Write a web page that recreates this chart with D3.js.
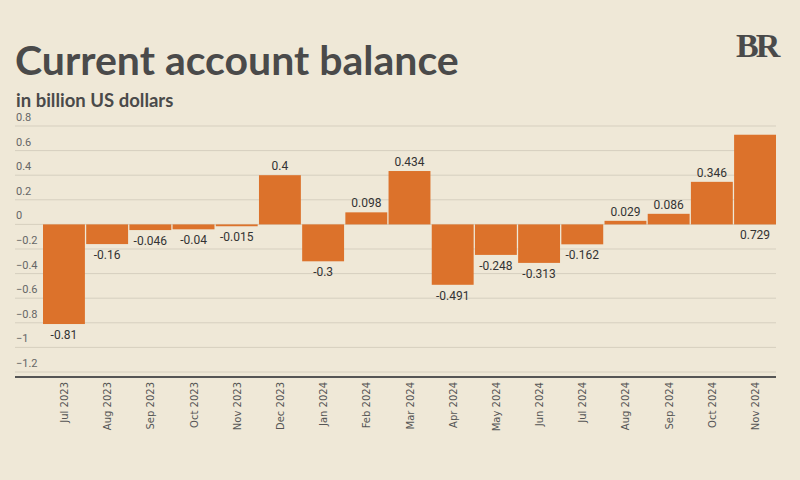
<!DOCTYPE html>
<html>
<head>
<meta charset="utf-8">
<script src="https://cdn.jsdelivr.net/npm/d3@7"></script>
<style>
  body { margin: 0; background: #efe8d7; }
  svg { display: block; }
</style>
</head>
<body>
<div id="chart"></div>
<script>
// data
var months = ["Jul 2023", "Aug 2023", "Sep 2023", "Oct 2023", "Nov 2023", "Dec 2023",
              "Jan 2024", "Feb 2024", "Mar 2024", "Apr 2024", "May 2024", "Jun 2024",
              "Jul 2024", "Aug 2024", "Sep 2024", "Oct 2024", "Nov 2024"];
var values = [-0.81, -0.16, -0.046, -0.04, -0.015, 0.4,
              -0.3, 0.098, 0.434, -0.491, -0.248, -0.313,
              -0.162, 0.029, 0.086, 0.346, 0.729];
var yTicks = [0.8, 0.6, 0.4, 0.2, 0, -0.2, -0.4, -0.6, -0.8, -1, -1.2];

var W = 800, H = 480;
var color = {
  bg: "#efe8d7",
  bar: "#dc722b",
  grid: "#d6cfbf",
  text: "#4a4a4a",
  axis: "#555555"
};
var area = { left: 43, right: 776, top: 126, bottom: 372, gridLeft: 15 };

var svg = d3.select("#chart").append("svg").attr("width", W).attr("height", H);
svg.append("rect").attr("width", W).attr("height", H).attr("fill", color.bg);

// titles
svg.append("text").attr("x", 15).attr("y", 75)
   .attr("font-family", "Lato").attr("font-weight", "bold").attr("font-size", 41)
   .attr("fill", color.text).text("Current account balance");
svg.append("text").attr("x", 16).attr("y", 107)
   .attr("font-family", "Lato").attr("font-weight", "bold").attr("font-size", 18.5)
   .attr("fill", color.text).text("in billion US dollars");
svg.append("text").attr("x", 736).attr("y", 57)
   .attr("font-family", "Liberation Serif").attr("font-weight", "bold").attr("font-size", 34)
   .attr("letter-spacing", -3).attr("fill", color.text).text("BR");

// scales
var x = d3.scaleBand().domain(months).range([area.left, area.right]).paddingInner(0.03).paddingOuter(0);
var y = d3.scaleLinear().domain([-1.2, 0.8]).range([area.bottom, area.top]);

// grid + y labels
var grid = svg.append("g");
grid.selectAll("line").data(yTicks).enter().append("line")
    .attr("x1", area.gridLeft).attr("x2", area.right)
    .attr("y1", function(d) { return y(d); }).attr("y2", function(d) { return y(d); })
    .attr("stroke", color.grid).attr("stroke-width", 1);
grid.selectAll("text").data(yTicks).enter().append("text")
    .attr("x", 16).attr("y", function(d) { return y(d) - 5; })
    .attr("font-family", "Roboto").attr("font-size", 11).attr("fill", "#666")
    .text(function(d) { return d3.format("")(d); });

// bars
svg.append("g").selectAll("rect").data(values).enter().append("rect")
   .attr("x", function(d, i) { return x(months[i]); })
   .attr("width", x.bandwidth())
   .attr("y", function(d) { return y(Math.max(0, d)); })
   .attr("height", function(d) { return Math.abs(y(d) - y(0)); })
   .attr("fill", color.bar);

// value labels (no room above the tallest bar -> put it under the zero line)
svg.append("g").selectAll("text").data(values).enter().append("text")
   .attr("x", function(d, i) { return x(months[i]) + x.bandwidth() / 2; })
   .attr("y", function(d) {
     if (d >= 0) {
       var ty = y(d) - 5;
       return ty - 10 < area.top ? y(0) + 15 : ty;
     }
     return y(d) + 15;
   })
   .attr("text-anchor", "middle")
   .attr("font-family", "Roboto").attr("font-size", 12).attr("fill", "#333")
   .text(function(d) { return String(d); });

// x axis line
svg.append("line").attr("x1", area.gridLeft).attr("x2", area.right)
   .attr("y1", 377).attr("y2", 377).attr("stroke", color.axis).attr("stroke-width", 2);

// month labels
svg.append("g").selectAll("text").data(months).enter().append("text")
   .attr("transform", function(d) {
     return "translate(" + (x(d) + x.bandwidth() / 2 + 4) + ",382) rotate(-90)";
   })
   .attr("text-anchor", "end")
   .attr("font-family", "DejaVu Sans").attr("font-size", 10).attr("fill", "#555")
   .text(function(d) { return d; });
</script>
</body>
</html>
